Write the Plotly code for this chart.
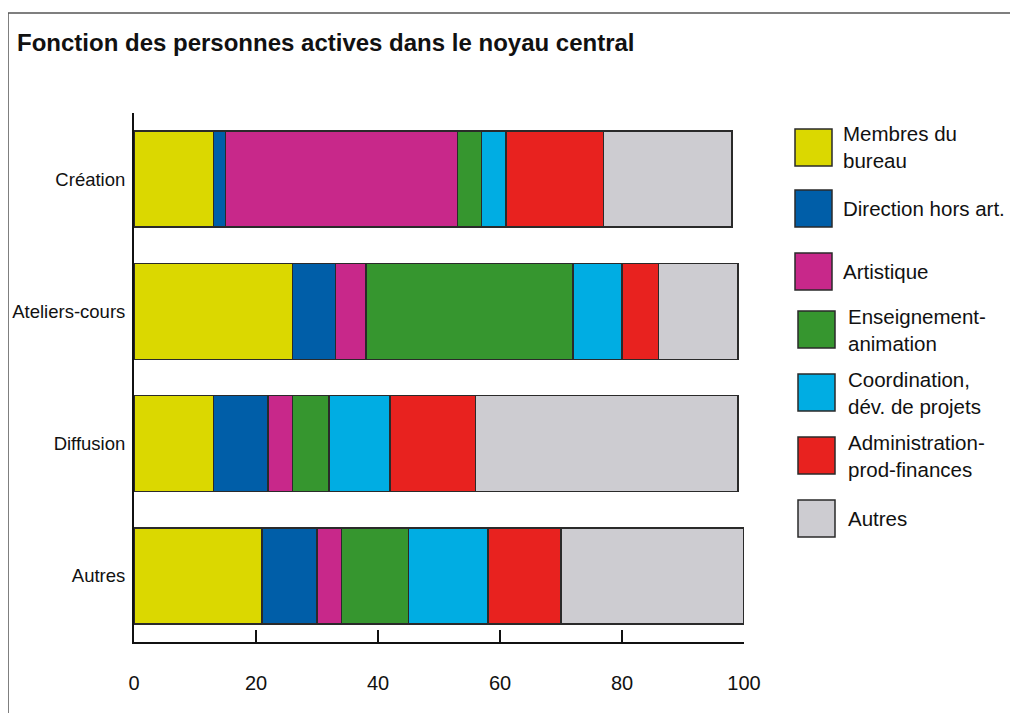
import plotly.graph_objects as go

categories = ["Création", "Ateliers-cours", "Diffusion", "Autres"]
series_names = ["Membres du bureau", "Direction hors art.", "Artistique",
                "Enseignement-animation", "Coordination, dév. de projets",
                "Administration-prod-finances", "Autres"]
legend_lines = [["Membres du", "bureau"], ["Direction hors art."], ["Artistique"],
                ["Enseignement-", "animation"], ["Coordination,", "dév. de projets"],
                ["Administration-", "prod-finances"], ["Autres"]]
colors = ["#dbd800", "#005ea8", "#c8288a", "#36962f", "#00ade3", "#e8221f", "#cdccd1"]

membres = [13, 26, 13, 21]
direction = [2, 7, 9, 9]
artistique = [38, 5, 4, 4]
enseignement = [4, 34, 6, 11]
coordination = [4, 8, 10, 13]
administration = [16, 6, 14, 12]
autres = [21, 13, 43, 30]
series_values = [membres, direction, artistique, enseignement, coordination, administration, autres]

x_ticks = [0, 20, 40, 60, 80, 100]

FONT = "Liberation Sans, Arial, sans-serif"

fig = go.Figure()
for name, vals, col in zip(series_names, series_values, colors):
    fig.add_trace(go.Bar(
        y=categories, x=vals, name=name, orientation="h",
        marker=dict(color=col, line=dict(color="#2a2a2a", width=1.5)),
        showlegend=False,
    ))

# page body has an 8px margin: compensate by shifting all targets by -8
OFF = 8
W, H = 1018, 713
L, T = 134 - OFF, 113 - OFF
pw, ph = 610, 529
R = W - L - pw
B = H - T - ph

def px(x):
    return (x - OFF - L) / pw

def py(y):
    return (T + ph - (y - OFF)) / ph

# manual legend
sq_x0 = [795, 795, 795, 798, 798, 798, 798]
sq_y0 = [129, 190, 253, 311, 374, 437, 500]
txt_x = [843, 843, 843, 848, 848, 848, 848]
shapes = []
annotations = []
for i, (lines, col) in enumerate(zip(legend_lines, colors)):
    y0 = sq_y0[i]
    shapes.append(dict(type="rect", xref="paper", yref="paper",
                       x0=px(sq_x0[i]), x1=px(sq_x0[i] + 37),
                       y0=py(y0 + 37), y1=py(y0),
                       fillcolor=col, line=dict(color="#2a2a2a", width=1.5)))
    annotations.append(dict(text="<br>".join(lines), xref="paper", yref="paper",
                            x=px(txt_x[i] - 2), y=py(y0 + 18.5), xanchor="left", yanchor="middle",
                            align="left", showarrow=False,
                            font=dict(family=FONT, size=20.5, color="#111")))

# frame
shapes.append(dict(type="line", xref="paper", yref="paper",
                   x0=px(8), x1=px(8), y0=py(13), y1=py(H + 20),
                   line=dict(color="#555", width=1.5)))
shapes.append(dict(type="line", xref="paper", yref="paper",
                   x0=px(8), x1=px(W + 20), y0=py(13), y1=py(13),
                   line=dict(color="#555", width=1.5)))

fig.update_layout(
    width=W, height=H,
    margin=dict(l=L, r=R, t=T, b=B, autoexpand=False),
    barmode="stack", bargap=0.275,
    plot_bgcolor="white", paper_bgcolor="white",
    title=dict(text="<b>Fonction des personnes actives dans le noyau central</b>",
               xref="container", yref="container",
               x=(18 - OFF - 1) / W, xanchor="left", y=1 - (43 - OFF) / H, yanchor="middle",
               pad=dict(l=0, r=0, t=0, b=0),
               font=dict(family=FONT, size=24, color="#111")),
    shapes=shapes, annotations=annotations,
    xaxis=dict(range=[0, 100], tickvals=x_ticks, ticktext=[str(v) for v in x_ticks],
               automargin=False,
               showgrid=False, zeroline=False, showline=True, linecolor="#111", linewidth=2,
               ticks="inside", ticklen=12, tickwidth=2, tickcolor="#111",
               ticklabelstandoff=22,
               tickfont=dict(family=FONT, size=20, color="#111")),
    yaxis=dict(categoryorder="array", categoryarray=categories, range=[3.5, -0.5],
               automargin=False,
               showgrid=False, zeroline=False, showline=True, linecolor="#111", linewidth=2,
               ticks="", ticklabelstandoff=3,
               tickfont=dict(family=FONT, size=18.5, color="#111")),
)

fig.write_html("out.html")
